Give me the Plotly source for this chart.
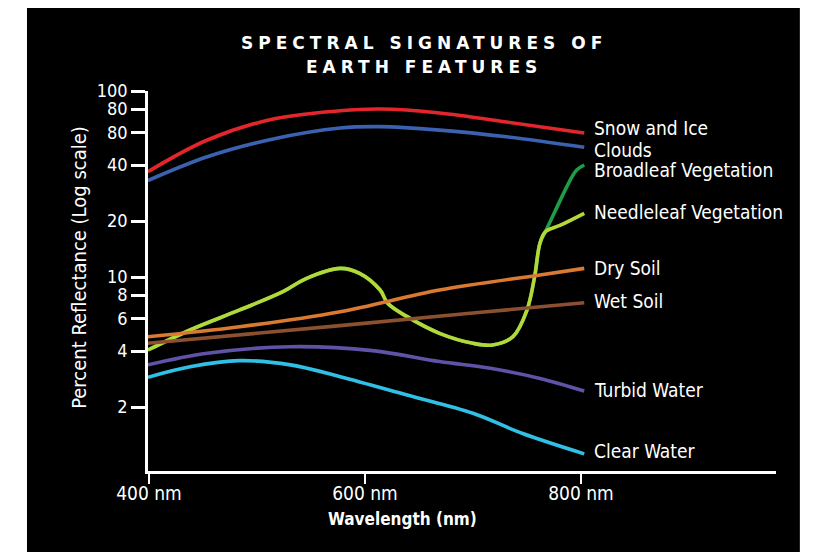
import math
import plotly.graph_objects as go

# ---------------- data ----------------
snow_x = [399, 454, 515, 577, 614, 669, 731, 803]
snow_y = [36.8, 54.5, 70.7, 78.3, 80.0, 76.2, 68.1, 59.4]

clouds_x = [399, 454, 515, 577, 614, 669, 731, 803]
clouds_y = [33.0, 44.3, 55.2, 63.2, 64.3, 61.6, 56.7, 49.8]

veg_x = [399, 438, 484, 524, 546, 577, 595, 614, 621, 639, 669, 700, 718, 737, 750, 757, 762, 767]
veg_y = [4.05, 5.19, 6.65, 8.34, 9.84, 11.13, 10.47, 8.51, 7.22, 6.12, 4.98, 4.40, 4.31, 4.78, 6.65, 10.0, 15.2, 17.5]

needle_tail_x = [781, 803]
needle_tail_y = [19.0, 22.0]

broad_tail_x = [778, 790, 796, 803]
broad_tail_y = [23.9, 33.2, 37.6, 40.0]

dry_x = [399, 484, 577, 669, 762, 803]
dry_y = [4.77, 5.40, 6.51, 8.51, 10.25, 11.13]

wet_x = [399, 577, 700, 803]
wet_y = [4.40, 5.48, 6.40, 7.27]

turbid_x = [399, 454, 531, 607, 669, 716, 762, 803]
turbid_y = [3.37, 3.89, 4.22, 4.02, 3.51, 3.23, 2.85, 2.44]

clear_x = [399, 438, 484, 531, 577, 639, 700, 746, 803]
clear_y = [2.89, 3.29, 3.55, 3.37, 2.91, 2.32, 1.85, 1.44, 1.12]

x_tickvals = [400, 600, 800]
x_ticktext = ["400 nm", "600 nm", "800 nm"]
y_tickvals = [2, 4, 6, 8, 10, 20, 40, 60, 80, 100]
y_ticktext = ["2", "4", "6", "8", "10", "20", "40", "80", "80", "100"]

title_lines = ["SPECTRAL SIGNATURES OF", "EARTH FEATURES"]

# ---------------- styling ----------------
FONT = "DejaVu Sans Condensed, Liberation Sans Narrow, Roboto, sans-serif"
LW = 3.6

series = [
    ("Broadleaf Vegetation", veg_x + broad_tail_x, veg_y + broad_tail_y, "#1f9c48", -5),
    ("Needleleaf Vegetation", veg_x + needle_tail_x, veg_y + needle_tail_y, "#b5d839", 1),
    ("Snow and Ice", snow_x, snow_y, "#e3262c", 5),
    ("Clouds", clouds_x, clouds_y, "#3a62b0", -3),
    ("Dry Soil", dry_x, dry_y, "#d97a32", 0),
    ("Wet Soil", wet_x, wet_y, "#8a5030", 2),
    ("Turbid Water", turbid_x, turbid_y, "#5f53a8", 1),
    ("Clear Water", clear_x, clear_y, "#30c0e6", 3),
]

fig = go.Figure()
for name, xs, ys, col, _ in series:
    fig.add_trace(go.Scatter(
        x=xs, y=ys, mode="lines", name=name,
        line=dict(color=col, width=LW, shape="spline", smoothing=1.0),
        hoverinfo="name+x+y",
    ))

annotations = []
for name, xs, ys, col, dy in series:
    annotations.append(dict(
        x=xs[-1], y=math.log10(ys[-1]), xref="x", yref="y",
        text=name, showarrow=False, xanchor="left", yanchor="middle",
        xshift=8, yshift=dy,
        font=dict(family=FONT, size=19, color="white"),
    ))

# title
title_style = "letter-spacing:5px"
for txt, yp in zip(title_lines, [1.127, 1.062]):
    annotations.append(dict(
        x=0.4395, y=yp, xref="paper", yref="paper",
        text=f'<span style="{title_style}">{txt}</span>',
        showarrow=False, xanchor="center", yanchor="middle",
        font=dict(family="DejaVu Sans", size=17, color="white", weight="bold"),
    ))
# axis titles
annotations.append(dict(
    x=-0.110, y=0.537, xref="paper", yref="paper",
    text="Percent Reflectance (Log scale)", textangle=-90,
    showarrow=False, xanchor="center", yanchor="middle",
    font=dict(family=FONT, size=20, color="white"),
))
annotations.append(dict(
    x=0.4045, y=-0.126, xref="paper", yref="paper",
    text="<b>Wavelength (nm)</b>",
    showarrow=False, xanchor="center", yanchor="middle",
    font=dict(family=FONT, size=17, color="white"),
))

# the page body adds an 8 px offset, so margins are reduced by 8 on the left/top
fig.update_layout(
    width=813, height=552,
    margin=dict(l=140, r=45, t=83, b=89, autoexpand=False),
    paper_bgcolor="white",
    plot_bgcolor="black",
    showlegend=False,
    annotations=annotations,
    shapes=[dict(
        type="rect", xref="paper", yref="paper",
        x0=-0.1927, x1=1.038, y0=-0.2132, y1=1.25,
        fillcolor="black", line=dict(width=0), layer="below",
    )],
)

fig.update_xaxes(
    range=[399.07, 980.56], automargin=False,
    tickvals=x_tickvals, ticktext=x_ticktext,
    showgrid=False, zeroline=False,
    showline=True, linecolor="white", linewidth=2.5,
    ticks="outside", ticklen=10, tickwidth=2, tickcolor="white",
    ticklabelstandoff=-7,
    tickfont=dict(family=FONT, size=19, color="white"),
)
fig.update_yaxes(
    type="log", range=[-0.043, 2.0], automargin=False,
    tickvals=y_tickvals, ticktext=y_ticktext,
    showgrid=False, zeroline=False,
    showline=True, linecolor="white", linewidth=2.5,
    ticks="outside", ticklen=14, tickwidth=2.5, tickcolor="white",
    tickfont=dict(family=FONT, size=18, color="white"),
)

fig.write_html("out.html")
